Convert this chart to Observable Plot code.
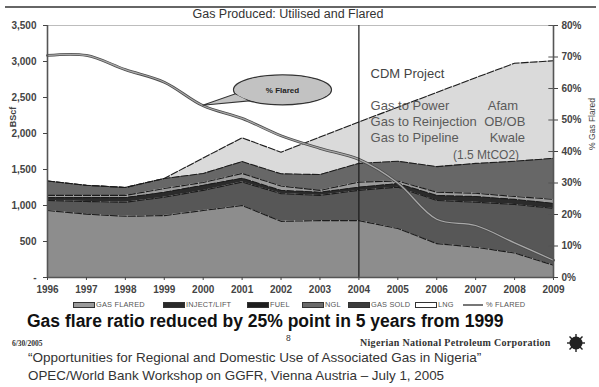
<!DOCTYPE html>
<html>
<head>
<meta charset="utf-8">
<script src="https://cdn.jsdelivr.net/npm/d3@7"></script>
<script src="https://cdn.jsdelivr.net/npm/@observablehq/plot@0.6"></script>
<style>
  html, body { margin: 0; padding: 0; background: #fff; }
  #wrap { position: relative; width: 599px; height: 387px; overflow: hidden; background: #fff; font-family: "Liberation Sans", Arial, sans-serif; }
  .abs { position: absolute; white-space: nowrap; line-height: 1; }
  .sw { position: absolute; width: 20px; height: 4px; border: 1px solid #333; }
  .lg { position: absolute; font-size: 7.4px; letter-spacing: 0.2px; color: #555; line-height: 1; white-space: nowrap; }
</style>
</head>
<body>
<div id="wrap">
  <div id="chart" class="abs" style="left:0;top:0"></div>
  <div class="abs" style="left:5px;top:6px;width:591px;height:2px;background:#666"></div>
  <div class="abs" style="left:0;width:576px;top:8px;text-align:center;font-size:12.5px;color:#333">Gas Produced: Utilised and Flared</div>
  <div class="abs" style="left:13px;top:117px;font-size:9px;font-weight:bold;color:#444;transform:translate(-50%,-50%) rotate(-90deg)">BScf</div>
  <div class="abs" style="left:592px;top:124px;font-size:8.5px;color:#444;transform:translate(-50%,-50%) rotate(-90deg)">% Gas Flared</div>
  <div id="legend"></div>
  <div class="abs" style="left:27px;top:313px;font-size:17.5px;font-weight:bold;color:#111">Gas flare ratio reduced by 25% point in 5 years from 1999</div>
  <div class="abs" style="left:286px;top:334px;font-size:8.5px;color:#333">8</div>
  <div class="abs" style="left:12px;top:340px;font-size:7.5px;font-weight:bold;color:#333;font-family:'Liberation Serif',serif">6/30/2005</div>
  <div class="abs" style="left:360px;top:338px;font-size:10px;letter-spacing:0.3px;font-weight:bold;color:#333;font-family:'Liberation Serif',serif">Nigerian National Petroleum Corporation</div>
  <svg class="abs" style="left:566px;top:333px" width="20" height="20" viewBox="-10 -10 20 20">
    <g stroke="#222" stroke-width="1.4">
      <line x1="-9" y1="0" x2="9" y2="0"/><line x1="0" y1="-9" x2="0" y2="9"/>
      <line x1="-6.5" y1="-6.5" x2="6.5" y2="6.5"/><line x1="-6.5" y1="6.5" x2="6.5" y2="-6.5"/>
    </g>
    <circle r="6.5" fill="#222"/>
  </svg>
  <div class="abs" style="left:28px;top:351px;font-size:13.5px;color:#333">“Opportunities for Regional and Domestic Use of Associated Gas in Nigeria”</div>
  <div class="abs" style="left:28px;top:369px;font-size:13.4px;color:#333">OPEC/World Bank Workshop on GGFR, Vienna Austria – July 1, 2005</div>
</div>
<script>
// Gas production by use, BScf per year, 1996–2009 (2005 onward projected)
const years      = [1996, 1997, 1998, 1999, 2000, 2001, 2002, 2003, 2004, 2005, 2006, 2007, 2008, 2009];
const gasFlared  = [930, 880, 850, 860, 930, 1000, 780, 790, 790, 680, 470, 420, 340, 170];
const injectLift = [140, 175, 195, 255, 280, 325, 385, 350, 420, 575, 600, 625, 675, 790];
const fuel       = [40, 55, 65, 70, 70, 55, 45, 45, 45, 50, 70, 80, 70, 70];
const ngl        = [30, 30, 30, 50, 40, 65, 60, 25, 70, 35, 45, 45, 40, 55];
const gasSold    = [200, 140, 110, 140, 125, 165, 170, 220, 260, 275, 355, 415, 490, 570];
const lng        = [0, 0, 0, 0, 215, 330, 300, 520, 575, 750, 1030, 1190, 1360, 1355];
// share of produced gas that is flared, in percent (right axis)
const pctFlared  = [70.5, 70.5, 66, 62, 54.5, 50.5, 45, 41, 37.5, 30, 18.5, 16.5, 11, 5.5];

const seriesNames = ["GAS FLARED", "INJECT/LIFT", "FUEL", "NGL", "GAS SOLD", "LNG"];
const seriesData  = [gasFlared, injectLift, fuel, ngl, gasSold, lng];
const pctLabel = "% FLARED";

const leftTicks  = [0, 500, 1000, 1500, 2000, 2500, 3000, 3500];
const rightTicks = [0, 10, 20, 30, 40, 50, 60, 70, 80];

const cdmTitle = "CDM Project";
const cdmSchemes = ["Gas to Power", "Gas to Reinjection", "Gas to Pipeline"];
const cdmSites = ["Afam", "OB/OB", "Kwale"];
const cdmSaving = "(1.5 MtCO2)";
const calloutText = "% Flared";

// ---- layout and styling ----
const fills = ["#8d8d8d", "#575757", "#2b2b2b", "#9c9c9c", "#676767", "#dadada"];
const yMax = 3500, pctMax = 80;
const toLeft = p => p * yMax / pctMax;   // percent -> left-axis units

const rows = seriesNames.flatMap((s, i) => years.map((yr, j) => ({year: yr, series: s, value: seriesData[i][j]})));
const pctRows = years.map((yr, i) => ({year: yr, v: toLeft(pctFlared[i])}));

const textRows = [
  {t: cdmTitle, x: 2004.3, y: 2830, c: "#444", s: 13},
  ...cdmSchemes.map((t, i) => ({t, x: 2004.3, y: 2390 - i * 222, c: "#5a5a5a", s: 13})),
  ...cdmSites.map((t, i) => ({t, x: [2007.31, 2007.22, 2007.36][i], y: 2390 - i * 222, c: "#5a5a5a", s: 13})),
  {t: cdmSaving, x: 2006.42, y: 1705, c: "#5a5a5a", s: 12}
];

const plot = Plot.plot({
  width: 599,
  height: 297,
  marginLeft: 47,
  marginRight: 46,
  marginTop: 25,
  marginBottom: 20,
  style: {fontFamily: "Liberation Sans, Arial, sans-serif", background: "transparent", color: "#444"},
  x: {domain: [1996, 2009]},
  y: {domain: [0, yMax]},
  color: {domain: seriesNames, range: fills},
  marks: [
    Plot.ruleY([yMax], {stroke: "#bdbdbd", strokeWidth: 1.2}),
    Plot.areaY(rows, {x: "year", y: "value", z: "series", fill: "series"}),
    Plot.lineY(rows, Plot.stackY2({x: "year", y: "value", z: "series", stroke: "#1c1c1c", strokeWidth: 1.1, strokeDasharray: "7,2"})),
    Plot.text(textRows, {x: "x", y: "y", text: "t", fill: "c", textAnchor: "start", fontSize: "s"}),
    Plot.line(pctRows, {x: "year", y: "v", curve: "catmull-rom", stroke: "#4c4c4c", strokeWidth: 2.8}),
    Plot.line(pctRows, {x: "year", y: "v", curve: "catmull-rom", stroke: "#a9a9a9", strokeWidth: 1.2}),
    Plot.ruleX([2004], {stroke: "#1a1a1a", strokeWidth: 1.2}),
    Plot.ruleX([1996], {stroke: "#555", strokeWidth: 1.6}),
    Plot.ruleX([2009], {stroke: "#555", strokeWidth: 1.6}),
    Plot.ruleY([0], {stroke: "#555", strokeWidth: 1.6}),
    Plot.ruleY(rightTicks.map(toLeft), {y: d => d, x1: 2008.88, x2: 2009, stroke: "#555"}),
    Plot.axisY({anchor: "left", ticks: leftTicks, tickFormat: d => d === 0 ? "-" : d3.format(",")(d), tickSize: 4, tickPadding: 7, fontSize: 10, fontWeight: "bold", label: null}),
    Plot.axisY({anchor: "right", ticks: rightTicks.map(toLeft), tickFormat: d => Math.round(d * pctMax / yMax) + "%", tickSize: 4, tickPadding: 4, fontSize: 10, fontWeight: "bold", label: null}),
    Plot.axisX({ticks: years, tickFormat: "d", tickSize: 3, tickPadding: 5, fontSize: 10, fontWeight: "bold", label: null})
  ]
});
document.getElementById("chart").appendChild(plot);

// "% Flared" callout bubble pointing at the 2000 value of the flared-share line
const sx = plot.scale("x"), sy = plot.scale("y");
const cx = sx.apply(2002.05), cy = sy.apply(2600);
const tipX = sx.apply(2000), tipY = sy.apply(toLeft(pctFlared[years.indexOf(2000)]));
const rx = 49, ry = 15;
const g = d3.select(plot).append("g");
const tail = `M${tipX},${tipY}L${cx - 47},${cy + 4}L${cx - 33},${cy + 11}Z`;
g.append("ellipse").attr("cx", cx).attr("cy", cy).attr("rx", rx).attr("ry", ry).attr("fill", "#c2c2c2").attr("stroke", "#333").attr("stroke-width", 1.2);
g.append("path").attr("d", tail).attr("fill", "#c2c2c2").attr("stroke", "#333").attr("stroke-width", 1.1);
g.append("ellipse").attr("cx", cx).attr("cy", cy).attr("rx", rx - 1).attr("ry", ry - 1).attr("fill", "#c2c2c2");
g.append("text").attr("x", cx).attr("y", cy).attr("dy", "0.35em").attr("text-anchor", "middle")
  .attr("font-size", 8).attr("font-weight", "bold").attr("fill", "#222").text(calloutText);

// legend row under the year labels
const legend = document.getElementById("legend");
const swatchLeft = [73, 163, 247, 302, 348, 415];
const swatchFill = ["#9a9a9a", "#2a2a2a", "#1e1e1e", "#6a6a6a", "#3c3c3c", "#ffffff"];
seriesNames.forEach((s, i) => {
  const sw = document.createElement("div");
  sw.className = "sw";
  sw.style.left = swatchLeft[i] + "px";
  sw.style.top = "302px";
  sw.style.background = swatchFill[i];
  legend.appendChild(sw);
  const lb = document.createElement("div");
  lb.className = "lg";
  lb.style.left = (swatchLeft[i] + 23) + "px";
  lb.style.top = "301px";
  lb.textContent = s;
  legend.appendChild(lb);
});
const ln = document.createElement("div");
ln.className = "abs";
Object.assign(ln.style, {left: "463px", top: "304px", width: "20px", height: "1.5px", background: "#777"});
legend.appendChild(ln);
const lbp = document.createElement("div");
lbp.className = "lg";
lbp.style.left = "486px";
lbp.style.top = "301px";
lbp.textContent = pctLabel;
legend.appendChild(lbp);
</script>
</body>
</html>
